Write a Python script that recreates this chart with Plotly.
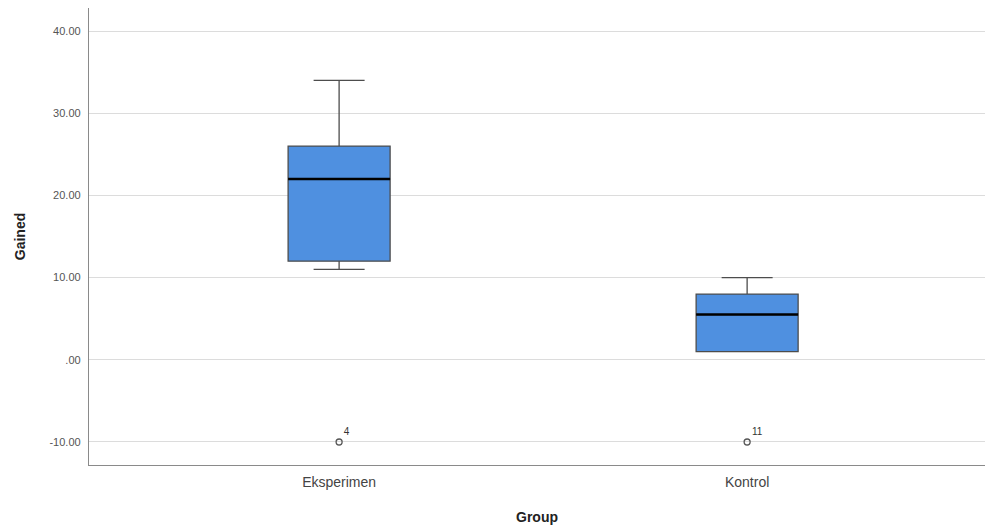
import plotly.graph_objects as go

groups = ["Eksperimen", "Kontrol"]
q1 = [12, 1]
median = [22, 5.5]
q3 = [26, 8]
lower_whisker = [11, 1]
upper_whisker = [34, 10]
outlier_values = [-10, -10]
outlier_labels = ["4", "11"]
ytick_vals = [-10, 0, 10, 20, 30, 40]
ytick_text = ["-10.00", ".00", "10.00", "20.00", "30.00", "40.00"]

pos = list(range(len(groups)))
box_w = 0.25

fig = go.Figure()
for i, g in enumerate(groups):
    fig.add_trace(go.Box(
        x=[pos[i]], q1=[q1[i]], median=[median[i]], q3=[q3[i]],
        lowerfence=[lower_whisker[i]], upperfence=[upper_whisker[i]],
        width=box_w, whiskerwidth=0.5,
        fillcolor="#4f90e0", line=dict(color="#4d4d4d", width=1.3),
        boxpoints=False, showlegend=False, hoverinfo="skip", name=g,
    ))
    fig.add_trace(go.Scatter(
        x=[pos[i] - box_w / 2, pos[i] + box_w / 2], y=[median[i], median[i]],
        mode="lines", line=dict(color="black", width=2.5),
        showlegend=False, hoverinfo="skip",
    ))

fig.add_trace(go.Scatter(
    x=pos, y=outlier_values, mode="markers+text",
    text=outlier_labels, textposition="top right",
    textfont=dict(family="Liberation Sans", size=10, color="#333"),
    marker=dict(symbol="circle-open", size=6, color="#555", line=dict(width=1.3)),
    showlegend=False, hoverinfo="skip",
))

fig.update_layout(
    width=985, height=528,
    margin=dict(l=89, r=0, t=8, b=63),
    plot_bgcolor="white", paper_bgcolor="white",
    font=dict(family="Liberation Sans", color="#333"),
    xaxis=dict(
        range=[-0.613, 1.583], tickvals=pos, ticktext=groups,
        showgrid=False, zeroline=False, showline=True, linecolor="#8a8a8a", linewidth=1.3,
        ticks="", ticklabelstandoff=4, tickfont=dict(size=14, color="#444"),
        title=dict(text="<b>Group</b>", font=dict(size=14, color="#222"), standoff=23),
    ),
    yaxis=dict(
        range=[-12.8, 42.8], tickvals=ytick_vals, ticktext=ytick_text,
        showgrid=True, gridcolor="#dcdcdc", gridwidth=1.2, zeroline=False,
        showline=True, linecolor="#8a8a8a", linewidth=1.3,
        ticks="", ticklen=0, ticklabelstandoff=5, tickfont=dict(size=11, color="#555"),
        title=dict(text="<b>Gained</b>", font=dict(size=14, color="#222"), standoff=20),
    ),
)

fig.write_html("out.html", config={"displayModeBar": False},
               post_script="document.body.style.margin='0';")
